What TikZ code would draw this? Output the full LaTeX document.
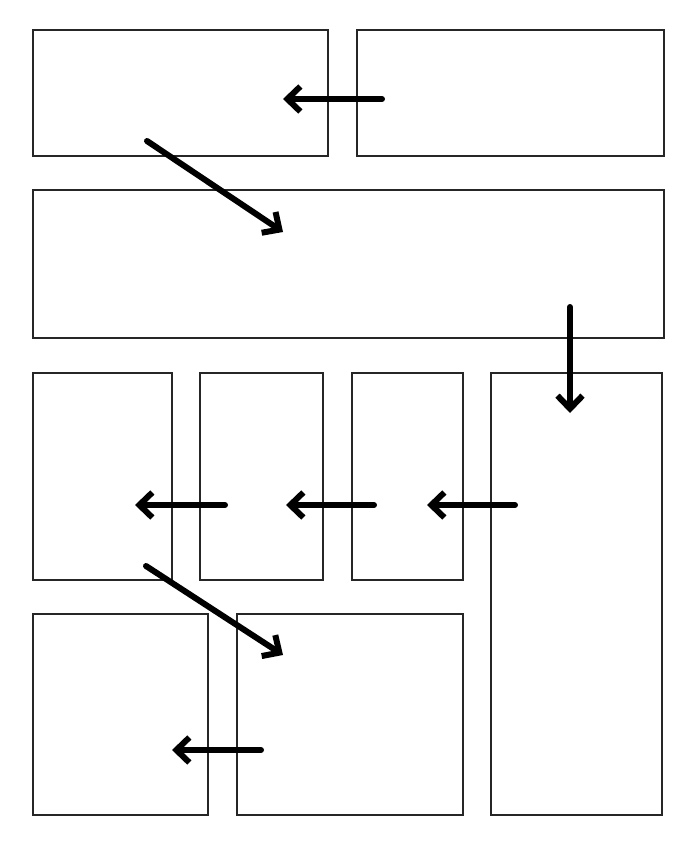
\documentclass[tikz,border=0pt]{standalone}
\usepackage{tikz}
\usetikzlibrary{arrows.meta}

\begin{document}
\begin{tikzpicture}[x=1pt,y=-1pt,>={Straight Barb[length=13pt,width=25pt]},
                    line cap=round]
  \tikzstyle{panel}=[rectangle,draw=black!85,fill=white,line width=2.4pt,inner sep=0pt]
  \tikzstyle{flow}=[->,line width=6pt,black]

  \useasboundingbox (0,0) rectangle (683,842);

  \node[panel,minimum width=295pt,minimum height=126pt] (a) at (180.5,93)  {};
  \node[panel,minimum width=307pt,minimum height=126pt] (b) at (510.5,93)  {};
  \node[panel,minimum width=631pt,minimum height=148pt] (c) at (348.5,264) {};
  \node[panel,minimum width=139pt,minimum height=207pt] (d) at (102.5,476.5) {};
  \node[panel,minimum width=123pt,minimum height=207pt] (e) at (261.5,476.5) {};
  \node[panel,minimum width=111pt,minimum height=207pt] (f) at (407.5,476.5) {};
  \node[panel,minimum width=171pt,minimum height=442pt] (g) at (576.5,594) {};
  \node[panel,minimum width=175pt,minimum height=201pt] (h) at (120.5,714.5) {};
  \node[panel,minimum width=226pt,minimum height=201pt] (i) at (350,714.5) {};

  % arrow ends
  \coordinate (b0) at (382,99);   \coordinate (a1) at (283,99);
  \coordinate (a0) at (147,141);  \coordinate (c1) at (283,232);
  \coordinate (c0) at (570,307);  \coordinate (g1) at (570,413);
  \coordinate (g0) at (515,505);  \coordinate (f1) at (427,505);
  \coordinate (f0) at (374,505);  \coordinate (e1) at (286,505);
  \coordinate (e0) at (225,505);  \coordinate (d1) at (135,505);
  \coordinate (d0) at (146,566);  \coordinate (i1) at (283,655);
  \coordinate (i0) at (261,750);  \coordinate (h1) at (172,750);

  \draw[flow] (b0) -- (a1);
  \draw[flow] (a0) -- (c1);
  \draw[flow] (c0) -- (g1);
  \draw[flow] (g0) -- (f1);
  \draw[flow] (f0) -- (e1);
  \draw[flow] (e0) -- (d1);
  \draw[flow] (d0) -- (i1);
  \draw[flow] (i0) -- (h1);
\end{tikzpicture}
\end{document}
